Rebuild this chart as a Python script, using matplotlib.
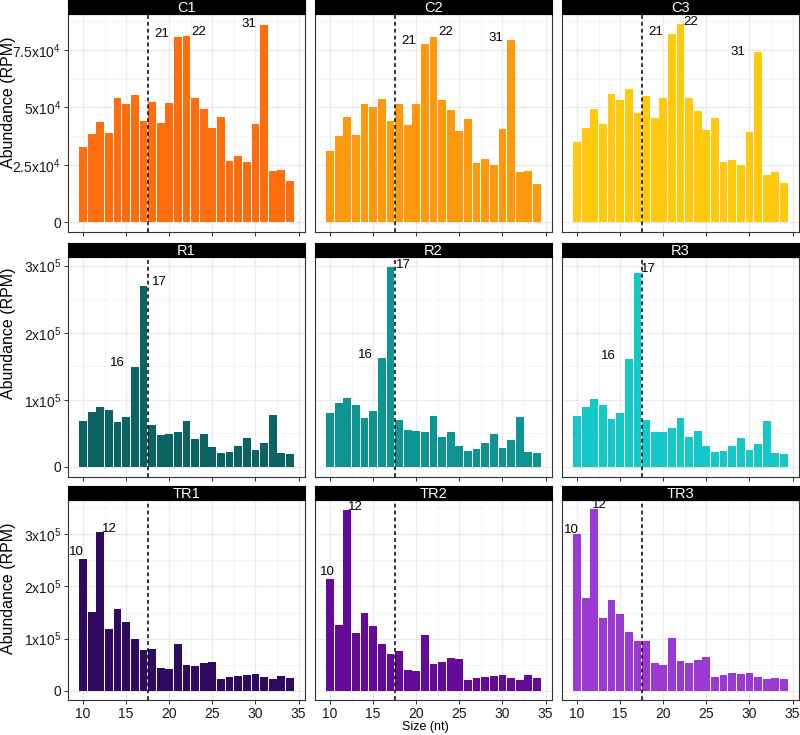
import matplotlib
matplotlib.use("Agg")
import matplotlib.pyplot as plt
import numpy as np

plt.rcParams['font.family'] = ['Liberation Sans', 'DejaVu Sans']
plt.rcParams['mathtext.fontset'] = 'custom'
plt.rcParams['mathtext.rm'] = 'Liberation Sans'
plt.rcParams['mathtext.it'] = 'Liberation Sans:italic'
plt.rcParams['mathtext.bf'] = 'Liberation Sans:bold'

# ---------------- data ----------------
sizes = list(range(10, 35))  # 10..34 nt

C1 = [3.29e4, 3.84e4, 4.38e4, 3.90e4, 5.39e4, 5.16e4, 5.52e4, 4.41e4, 5.24e4, 4.30e4,
      5.19e4, 8.09e4, 8.13e4, 5.43e4, 4.93e4, 4.09e4, 4.58e4, 2.67e4, 2.87e4, 2.63e4,
      4.26e4, 8.61e4, 2.21e4, 2.28e4, 1.81e4]
C2 = [3.12e4, 3.74e4, 4.59e4, 3.81e4, 5.17e4, 5.03e4, 5.37e4, 4.39e4, 5.14e4, 4.25e4,
      5.16e4, 7.76e4, 8.09e4, 5.34e4, 4.90e4, 3.97e4, 4.51e4, 2.57e4, 2.74e4, 2.50e4,
      4.07e4, 7.93e4, 2.18e4, 2.21e4, 1.68e4]
C3 = [3.50e4, 4.09e4, 4.91e4, 4.26e4, 5.59e4, 5.31e4, 5.81e4, 4.74e4, 5.50e4, 4.52e4,
      5.43e4, 8.20e4, 8.64e4, 5.40e4, 4.85e4, 4.02e4, 4.55e4, 2.61e4, 2.70e4, 2.48e4,
      3.91e4, 7.42e4, 2.07e4, 2.17e4, 1.70e4]
R1 = [0.685e5, 0.825e5, 0.895e5, 0.845e5, 0.665e5, 0.74e5, 1.495e5, 2.70e5, 0.63e5, 0.475e5,
      0.485e5, 0.52e5, 0.685e5, 0.42e5, 0.49e5, 0.295e5, 0.215e5, 0.23e5, 0.31e5, 0.425e5,
      0.255e5, 0.365e5, 0.77e5, 0.205e5, 0.195e5]
R2 = [0.805e5, 0.955e5, 1.03e5, 0.93e5, 0.73e5, 0.83e5, 1.63e5, 2.98e5, 0.70e5, 0.55e5,
      0.53e5, 0.525e5, 0.755e5, 0.44e5, 0.515e5, 0.31e5, 0.24e5, 0.27e5, 0.36e5, 0.485e5,
      0.29e5, 0.395e5, 0.75e5, 0.22e5, 0.21e5]
R3 = [0.755e5, 0.895e5, 1.02e5, 0.92e5, 0.715e5, 0.805e5, 1.605e5, 2.89e5, 0.705e5, 0.525e5,
      0.52e5, 0.585e5, 0.725e5, 0.445e5, 0.53e5, 0.32e5, 0.22e5, 0.245e5, 0.32e5, 0.43e5,
      0.25e5, 0.345e5, 0.685e5, 0.205e5, 0.19e5]
TR1 = [2.53e5, 1.516e5, 3.04e5, 1.19e5, 1.57e5, 1.32e5, 1.00e5, 0.78e5, 0.80e5, 0.44e5,
       0.415e5, 0.905e5, 0.49e5, 0.48e5, 0.53e5, 0.555e5, 0.22e5, 0.26e5, 0.29e5, 0.295e5,
       0.315e5, 0.26e5, 0.22e5, 0.29e5, 0.25e5]
TR2 = [2.145e5, 1.27e5, 3.47e5, 1.10e5, 1.49e5, 1.25e5, 0.893e5, 0.71e5, 0.76e5, 0.40e5,
       0.385e5, 1.07e5, 0.515e5, 0.547e5, 0.63e5, 0.615e5, 0.215e5, 0.245e5, 0.27e5, 0.283e5,
       0.31e5, 0.245e5, 0.215e5, 0.30e5, 0.24e5]
TR3 = [3.00e5, 1.77e5, 3.48e5, 1.40e5, 1.74e5, 1.47e5, 1.12e5, 0.95e5, 0.955e5, 0.54e5,
       0.50e5, 1.006e5, 0.566e5, 0.54e5, 0.60e5, 0.65e5, 0.264e5, 0.30e5, 0.34e5, 0.327e5,
       0.346e5, 0.264e5, 0.22e5, 0.25e5, 0.22e5]

panel_names = [["C1", "C2", "C3"], ["R1", "R2", "R3"], ["TR1", "TR2", "TR3"]]
panel_values = {"C1": C1, "C2": C2, "C3": C3, "R1": R1, "R2": R2, "R3": R3,
                "TR1": TR1, "TR2": TR2, "TR3": TR3}
panel_labels = {"C1": [21, 22, 31], "C2": [21, 22, 31], "C3": [21, 22, 31],
                "R1": [16, 17], "R2": [16, 17], "R3": [16, 17],
                "TR1": [10, 12], "TR2": [10, 12], "TR3": [10, 12]}

row_yticks = [[0, 2.5e4, 5e4, 7.5e4], [0, 1e5, 2e5, 3e5], [0, 1e5, 2e5, 3e5]]
row_yticklabels = [["0", r"$\mathregular{2.5x10^{4}}$", r"$\mathregular{5x10^{4}}$", r"$\mathregular{7.5x10^{4}}$"],
                   ["0", r"$\mathregular{1x10^{5}}$", r"$\mathregular{2x10^{5}}$", r"$\mathregular{3x10^{5}}$"],
                   ["0", r"$\mathregular{1x10^{5}}$", r"$\mathregular{2x10^{5}}$", r"$\mathregular{3x10^{5}}$"]]
xticks = [10, 15, 20, 25, 30, 35]
cutoff = 17.5

colors = {"C1": "#FF6E0C", "C2": "#FF990C", "C3": "#FFC90E",
          "R1": "#0C6363", "R2": "#0F9494", "R3": "#15C8C8",
          "TR1": "#2F0A5F", "TR2": "#650A99", "TR3": "#9A3AD2"}

# label offsets (px, relative to bar centre / bar top) -- styling only
label_offsets = {
    "C1": {21: (-16, 2.7), 22: (12.4, 3.7), 31: (-15, 0.7)},
    "C2": {21: (-16, 2.7), 22: (11.8, 4.4), 31: (-15.6, 2.6)},
    "C3": {21: (-16.3, 2.3), 22: (9.8, 1.7), 31: (-20.6, 0)},
    "R1": {16: (-17, 3.7), 17: (16, 4)},
    "R2": {16: (-16.7, 2.3), 17: (13, 2)},
    "R3": {16: (-20.4, 3), 17: (11.2, 4)},
    "TR1": {10: (-6.5, 6.3), 12: (9, 3.3)},
    "TR2": {10: (-3, 6.7), 12: (7.7, 3)},
    "TR3": {10: (-6, 4.6), 12: (5, 4.4)},
}

# ---------------- layout ----------------
W, H = 800, 735
fig = plt.figure(figsize=(W / 100, H / 100), dpi=100)
col_left = [68, 315, 562]
col_w = 237
row_tb = [(14, 232), (257, 477), (500, 700)]
strip_h = 14
PX = 0.72  # points per pixel

for r in range(3):
    rmax = max(max(panel_values[n]) for n in panel_names[r])
    ylo, yhi = -0.05 * rmax, 1.05 * rmax
    top, bot = row_tb[r]
    for c in range(3):
        name = panel_names[r][c]
        vals = panel_values[name]
        ax = fig.add_axes([col_left[c] / W, 1 - bot / H, col_w / W, (bot - top) / H])
        ax.set_xlim(8.25, 35.75)
        ax.set_ylim(ylo, yhi)
        yt = row_yticks[r]
        step = yt[1] - yt[0]
        ax.set_yticks(yt)
        ax.set_yticks([v + step / 2 for v in yt if v + step / 2 < yhi], minor=True)
        ax.set_xticks(xticks)
        ax.set_xticks([v + 2.5 for v in xticks[:-1]], minor=True)
        ax.grid(which='major', color='#EBEBEB', linewidth=0.9)
        ax.grid(which='minor', color='#F0F0F0', linewidth=0.5)
        ax.set_axisbelow(True)
        ax.bar(sizes, vals, width=0.9, color=colors[name], linewidth=0, zorder=2)
        ax.axvline(cutoff, color='black', linestyle=(0, (2.5, 2)), linewidth=1.1, zorder=3)
        for s in panel_labels[name]:
            v = vals[sizes.index(s)]
            dx, dy = label_offsets[name][s]
            ax.annotate(str(s), xy=(s, v), xytext=(dx * PX, dy * PX), textcoords='offset points',
                        ha='center', va='center', fontsize=9.5, color='black', zorder=4)
        for sp in ax.spines.values():
            sp.set_color('#333333')
            sp.set_linewidth(0.8)
        ax.tick_params(which='minor', length=0)
        ax.tick_params(which='major', length=3, width=0.7, color='#333333', labelsize=10,
                       labelcolor='#1a1a1a', pad=2)
        if c == 0:
            ax.set_yticklabels(row_yticklabels[r])
        else:
            ax.tick_params(axis='y', which='major', length=0, labelleft=False)
        if r == 2:
            ax.set_xticklabels([str(x) for x in xticks])
        else:
            ax.tick_params(axis='x', labelbottom=False)
        # strip
        sax = fig.add_axes([col_left[c] / W, 1 - top / H, col_w / W, strip_h / H])
        sax.set_facecolor('black')
        sax.set_xticks([])
        sax.set_yticks([])
        for sp in sax.spines.values():
            sp.set_color('black')
        sax.text(0.5, 0.45, name, color='white', ha='center', va='center', fontsize=10.5,
                 transform=sax.transAxes)

# y-axis titles
ylab_centers = [102, 333, 588]
for yc in ylab_centers:
    fig.text(9 / W, 1 - yc / H, "Abundance (RPM)", rotation=90, ha='center', va='center',
             fontsize=11.5, color='black')

fig.text(425 / W, 1 - 727 / H, "Size (nt)", ha='center', va='center', fontsize=9, color='black')

fig.savefig("out.png", dpi=100)
